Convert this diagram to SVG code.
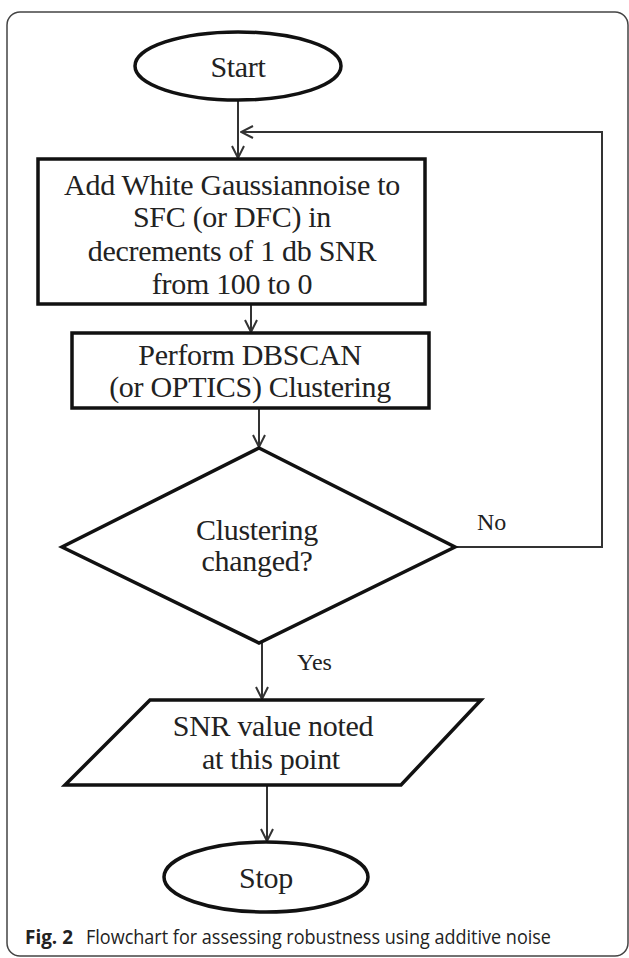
<svg xmlns="http://www.w3.org/2000/svg" width="629" height="958" viewBox="0 0 629 958">
<style>
.shape{fill:#fff;stroke:#111;stroke-width:3.5}
.t{font-family:"Liberation Serif",serif;font-size:30px;fill:#222;text-anchor:middle;letter-spacing:-0.3px}
.lbl{font-family:"Liberation Serif",serif;font-size:24px;fill:#222}
.conn{fill:none;stroke:#333;stroke-width:2}
.cap{font-family:"Open Sans","Liberation Sans",sans-serif;font-size:20px;fill:#222}
</style>
<defs>
<marker id="arr" viewBox="0 0 14 14" refX="13" refY="7" markerWidth="14" markerHeight="14" markerUnits="userSpaceOnUse" orient="auto">
<path d="M1,1 L13,7 L1,13" fill="none" stroke="#333" stroke-width="2"/>
</marker>
</defs>
<rect x="7" y="12" width="621" height="944" rx="13" fill="#fff" stroke="#444" stroke-width="1.5"/>
<g id="connectors">
<line class="conn" x1="238" y1="100" x2="238" y2="158" marker-end="url(#arr)"/>
<line class="conn" x1="251" y1="304" x2="251" y2="332" marker-end="url(#arr)"/>
<line class="conn" x1="259" y1="408" x2="259" y2="447" marker-end="url(#arr)"/>
<polyline class="conn" points="455,547 602,547 602,132 241,132" marker-end="url(#arr)"/>
<line class="conn" x1="262" y1="643" x2="262" y2="699" marker-end="url(#arr)"/>
<line class="conn" x1="267" y1="785" x2="267" y2="841" marker-end="url(#arr)"/>
<text class="lbl" x="477" y="530">No</text>
<text class="lbl" x="297" y="670">Yes</text>
</g>
<g id="start">
<ellipse class="shape" cx="238" cy="66" rx="103" ry="34"/>
<text class="t" x="238" y="77">Start</text>
</g>
<g id="add-noise">
<rect class="shape" x="38" y="159" width="387" height="145"/>
<text class="t" x="232" y="195">Add White Gaussiannoise to</text>
<text class="t" x="232" y="227">SFC (or DFC) in</text>
<text class="t" x="232" y="261">decrements of 1 db SNR</text>
<text class="t" x="232" y="294">from 100 to 0</text>
</g>
<g id="dbscan">
<rect class="shape" x="72" y="333" width="357" height="75"/>
<text class="t" x="250" y="365">Perform DBSCAN</text>
<text class="t" x="250" y="397">(or OPTICS) Clustering</text>
</g>
<g id="decision">
<polygon class="shape" points="259,448 455,547 259,643 62,547"/>
<text class="t" x="257" y="540">Clustering</text>
<text class="t" x="257" y="571">changed?</text>
</g>
<g id="snr">
<polygon class="shape" points="150,700 481,700 401,785 65,785"/>
<text class="t" x="273" y="736">SNR value noted</text>
<text class="t" x="271" y="769">at this point</text>
</g>
<g id="stop">
<ellipse class="shape" cx="266" cy="877" rx="102" ry="35"/>
<text class="t" x="266" y="888">Stop</text>
</g>
<text class="cap" x="25" y="944" font-weight="bold" textLength="48" lengthAdjust="spacingAndGlyphs">Fig. 2</text>
<text class="cap" x="86" y="944" textLength="465" lengthAdjust="spacingAndGlyphs">Flowchart for assessing robustness using additive noise</text>
</svg>
